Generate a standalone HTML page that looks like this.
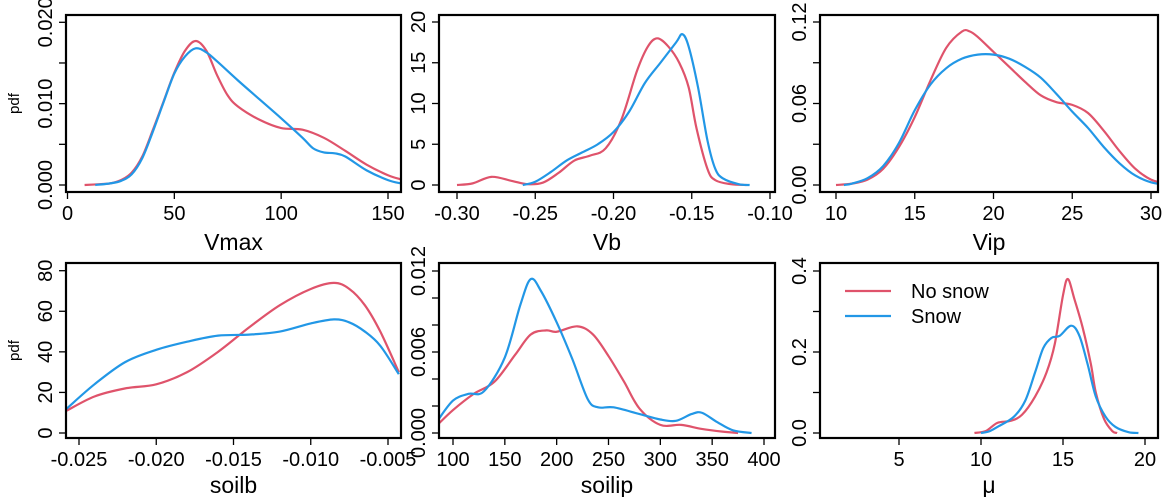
<!DOCTYPE html>
<html><head><meta charset="utf-8"><style>
body{margin:0;background:#fff;}
svg{display:block;font-family:"Liberation Sans",Arial,sans-serif;}
</style></head><body>
<svg id="c" width="1169" height="497" viewBox="0 0 1169 497"></svg>
<script>
// ---- data ----
const vmaxRedX=[8,15,20,25,30,35,40,45,50,55,60,65,70,75,80,90,100,110,120,130,140,150,156];
const vmaxRedY=[0,0.0001,0.0002,0.0006,0.0015,0.0035,0.0068,0.0103,0.0138,0.0165,0.0177,0.0165,0.0135,0.011,0.0096,0.008,0.007,0.0068,0.0058,0.0042,0.0025,0.0012,0.0007];
const vmaxBlueX=[13,20,25,30,35,40,45,50,55,60,65,70,80,90,100,110,115,120,125,130,140,150,156];
const vmaxBlueY=[0,0.0002,0.0005,0.0013,0.0033,0.0066,0.0102,0.0137,0.0158,0.0168,0.0163,0.0152,0.0128,0.0105,0.0082,0.0058,0.0045,0.004,0.0039,0.0035,0.0018,0.0006,0.0002];
const vbRedX=[-0.30,-0.29,-0.278,-0.265,-0.255,-0.245,-0.235,-0.225,-0.215,-0.205,-0.195,-0.185,-0.178,-0.172,-0.165,-0.158,-0.152,-0.147,-0.14,-0.135,-0.125,-0.115];
const vbRedY=[0,0.2,1.0,0.5,0.1,0.3,1.5,3,3.6,4.5,8,14,17,18,17,15,12,7,2,0.6,0.1,0];
const vbBlueX=[-0.258,-0.25,-0.24,-0.23,-0.22,-0.21,-0.2,-0.19,-0.18,-0.17,-0.16,-0.156,-0.152,-0.146,-0.14,-0.135,-0.13,-0.12,-0.113];
const vbBlueY=[0,0.4,1.6,3,4,5,6.5,9,12.5,15,17.5,18.5,17,12,5.5,2,0.8,0.1,0];
const vipRedX=[10,11,12,13,14,15,16,17,18,18.5,19,20,21,22,23,24,25,26,27,28,29,30,31];
const vipRedY=[0,0.001,0.004,0.012,0.028,0.05,0.077,0.101,0.113,0.113,0.109,0.098,0.087,0.076,0.066,0.061,0.059,0.053,0.04,0.025,0.012,0.004,0.001];
const vipBlueX=[10.5,11,12,13,14,15,16,17,18,19,20,21,22,23,24,25,26,27,28,29,30,31];
const vipBlueY=[0,0.001,0.005,0.014,0.031,0.055,0.074,0.086,0.093,0.096,0.096,0.093,0.087,0.079,0.067,0.054,0.042,0.028,0.016,0.007,0.002,0];
const soilbRedX=[-0.0258,-0.024,-0.022,-0.020,-0.018,-0.016,-0.014,-0.012,-0.010,-0.0085,-0.0075,-0.0065,-0.0055,-0.0043];
const soilbRedY=[11,18,22,24,30,40,52,63,71,74,71,63,50,30];
const soilbBlueX=[-0.0258,-0.024,-0.022,-0.020,-0.018,-0.016,-0.014,-0.012,-0.010,-0.0085,-0.0075,-0.0065,-0.0055,-0.0043];
const soilbBlueY=[12,24,35,41,45,48,48.5,50,54,56,54.5,50,43,29];
const soilipRedX=[85,100,120,140,160,175,190,200,220,235,250,265,280,300,320,340,360,375];
const soilipRedY=[0.0006,0.0017,0.0029,0.0038,0.0058,0.0073,0.0076,0.0075,0.0079,0.0073,0.0057,0.0038,0.0018,0.0006,0.0006,0.0003,0.0001,0];
const soilipBlueX=[85,100,115,130,150,165,175,185,200,215,230,240,255,280,300,315,330,340,355,370,388];
const soilipBlueY=[0.0009,0.0024,0.0029,0.0031,0.0056,0.0095,0.0114,0.0105,0.0082,0.0055,0.0025,0.0019,0.0019,0.0014,0.001,0.0009,0.0014,0.0015,0.0008,0.0002,0];
const muRedX=[9.6,10.3,11,11.8,12.5,13.3,14,14.5,15,15.3,15.7,16.2,16.7,17,17.5,18,18.3];
const muRedY=[0,0.005,0.025,0.03,0.045,0.09,0.15,0.22,0.34,0.38,0.33,0.26,0.17,0.1,0.035,0.005,0];
const muBlueX=[10,10.5,11,12,12.7,13.3,13.8,14.3,14.8,15.5,16,16.5,17,17.6,18.2,19,19.6];
const muBlueY=[0,0.004,0.015,0.04,0.08,0.15,0.21,0.235,0.24,0.265,0.24,0.17,0.09,0.04,0.015,0.002,0];
// tick values & labels
const vmaxXTicks=[0,50,100,150], vmaxYTicks=[0,0.005,0.01,0.015,0.02], vmaxYLabels=["0.000","","0.010","","0.020"];
const vbXTicks=[-0.30,-0.25,-0.20,-0.15,-0.10], vbXLabels=["-0.30","-0.25","-0.20","-0.15","-0.10"], vbYTicks=[0,5,10,15,20];
const vipXTicks=[10,15,20,25,30], vipYTicks=[0,0.03,0.06,0.09,0.12], vipYLabels=["0.00","","0.06","","0.12"];
const soilbXTicks=[-0.025,-0.020,-0.015,-0.010,-0.005], soilbXLabels=["-0.025","-0.020","-0.015","-0.010","-0.005"], soilbYTicks=[0,20,40,60,80];
const soilipXTicks=[100,150,200,250,300,350,400], soilipYTicks=[0,0.002,0.004,0.006,0.008,0.01,0.012], soilipYLabels=["0.000","","","0.006","","","0.012"];
const muXTicks=[5,10,15,20], muYTicks=[0,0.1,0.2,0.3,0.4], muYLabels=["0.0","","0.2","","0.4"];

const RED="#DF536B", BLUE="#2297E6";
const svg=document.getElementById('c');
const NS="http://www.w3.org/2000/svg";
function mk(tag,attrs,parent){const e=document.createElementNS(NS,tag);for(const k in attrs)e.setAttribute(k,attrs[k]);(parent||svg).appendChild(e);return e;}

const panels=[
 {key:"vmax",title:"Vmax",box:[66,15,401,192],xd:[0,150],xp:[67.5,388],yd:[0,0.02],yp:[185,22.3],xt:vmaxXTicks,xl:vmaxXTicks.map(String),yt:vmaxYTicks,yl:vmaxYLabels,rx:vmaxRedX,ry:vmaxRedY,bx:vmaxBlueX,by:vmaxBlueY,pdf:true,ty:250},
 {key:"vb",title:"Vb",box:[439,15,775,192],xd:[-0.30,-0.10],xp:[457,770],yd:[0,20],yp:[185,22],xt:vbXTicks,xl:vbXLabels,yt:vbYTicks,yl:vbYTicks.map(String),rx:vbRedX,ry:vbRedY,bx:vbBlueX,by:vbBlueY,ty:250},
 {key:"vip",title:"Vip",box:[820,15,1158,192],xd:[10,30],xp:[836,1151],yd:[0,0.12],yp:[185,22],xt:vipXTicks,xl:vipXTicks.map(String),yt:vipYTicks,yl:vipYLabels,rx:vipRedX,ry:vipRedY,bx:vipBlueX,by:vipBlueY,ty:250},
 {key:"soilb",title:"soilb",box:[66,263,401,438],xd:[-0.025,-0.005],xp:[79,388],yd:[0,80],yp:[433,270.7],xt:soilbXTicks,xl:soilbXLabels,yt:soilbYTicks,yl:soilbYTicks.map(String),rx:soilbRedX,ry:soilbRedY,bx:soilbBlueX,by:soilbBlueY,pdf:true,ty:493},
 {key:"soilip",title:"soilip",box:[439,263,775,438],xd:[100,400],xp:[453,764],yd:[0,0.012],yp:[433,271],xt:soilipXTicks,xl:soilipXTicks.map(String),yt:soilipYTicks,yl:soilipYLabels,rx:soilipRedX,ry:soilipRedY,bx:soilipBlueX,by:soilipBlueY,ty:493},
 {key:"mu",title:"μ",box:[820,263,1158,438],xd:[5,20],xp:[899,1145],yd:[0,0.4],yp:[433,271],xt:muXTicks,xl:muXTicks.map(String),yt:muYTicks,yl:muYLabels,rx:muRedX,ry:muRedY,bx:muBlueX,by:muBlueY,legend:true,ty:493}
];

function smoothPath(pts){
 let d="M"+pts[0][0].toFixed(2)+","+pts[0][1].toFixed(2);
 for(let i=0;i<pts.length-1;i++){
  const p0=pts[i-1]||pts[i],p1=pts[i],p2=pts[i+1],p3=pts[i+2]||p2;
  const c1=[p1[0]+(p2[0]-p0[0])/6,p1[1]+(p2[1]-p0[1])/6];
  const c2=[p2[0]-(p3[0]-p1[0])/6,p2[1]-(p3[1]-p1[1])/6];
  d+=" C"+c1.map(v=>v.toFixed(2)).join(",")+" "+c2.map(v=>v.toFixed(2)).join(",")+" "+p2[0].toFixed(2)+","+p2[1].toFixed(2);
 }
 return d;
}

panels.forEach(p=>{
 const g=mk('g',{});
 
 
 const [x0,y0,x1,y1]=p.box;
 const sx=v=>p.xp[0]+(v-p.xd[0])/(p.xd[1]-p.xd[0])*(p.xp[1]-p.xp[0]);
 const sy=v=>p.yp[0]+(v-p.yd[0])/(p.yd[1]-p.yd[0])*(p.yp[1]-p.yp[0]);
 const cid='clip-'+p.key;
 const cp=mk('clipPath',{id:cid},g); mk('rect',{x:x0,y:y0,width:x1-x0,height:y1-y0},cp);
 [[p.rx,p.ry,RED,'red'],[p.bx,p.by,BLUE,'blue']].forEach(([xs,ys,col,nm])=>{
  const pts=xs.map((x,i)=>[sx(x),sy(ys[i])]);
  const path=mk('path',{d:smoothPath(pts),fill:'none',stroke:col,'stroke-width':2.2,'clip-path':'url(#'+cid+')'},g);
  
  
 });
 const box=mk('rect',{x:x0,y:y0,width:x1-x0,height:y1-y0,fill:'none',stroke:'#000','stroke-width':2.2},g);
 
 
 p.xt.forEach((v,i)=>{
  const X=sx(v);
  mk('line',{x1:X,x2:X,y1:y1,y2:y1+7,stroke:'#000','stroke-width':1.3},g);
  const t=mk('text',{x:X,y:y1+28,'font-size':20,'text-anchor':'middle',fill:'#000'},g);
  t.textContent=p.xl[i];
  
  
 });
 p.yt.forEach((v,i)=>{
  const Y=sy(v);
  mk('line',{x1:x0-7,x2:x0,y1:Y,y2:Y,stroke:'#000','stroke-width':1.3},g);
  if(p.yl[i]!==""){
   const tx=x0-14;
   const t=mk('text',{x:tx,y:Y,'font-size':20,'text-anchor':'middle',fill:'#000',transform:'rotate(-90 '+tx+' '+Y+')'},g);
   t.textContent=p.yl[i];
   
   
  }
 });
 const at=mk('text',{x:(x0+x1)/2,y:p.ty,'font-size':23,'text-anchor':'middle',fill:'#000'},g);
 at.textContent=p.title;
 
 
 if(p.pdf){
  const cy=(y0+y1)/2, cx=19;
  const pt=mk('text',{x:cx,y:cy,'font-size':15,'text-anchor':'middle',fill:'#000',transform:'rotate(-90 '+cx+' '+cy+')'},g);
  pt.textContent='pdf';
  
  
 }
 if(p.legend){
  const lg=mk('g',{},g);
  
  
  [["No snow",RED,291],["Snow",BLUE,316]].forEach(([lab,col,Y])=>{
   const e=mk('g',{},lg);
   
   
   mk('line',{x1:845,x2:891,y1:Y,y2:Y,stroke:col,'stroke-width':2.2},e);
   const t=mk('text',{x:911,y:Y+7,'font-size':20,fill:'#000'},e);
   t.textContent=lab;
  });
 }
});
</script>
</body></html>
